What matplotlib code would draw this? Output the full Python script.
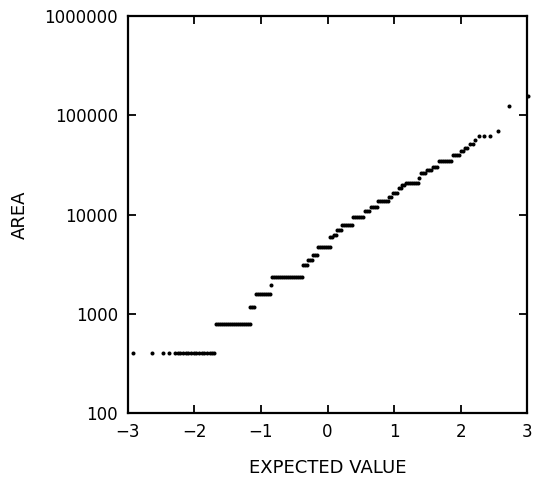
import matplotlib
matplotlib.use('Agg')
import matplotlib.pyplot as plt
from matplotlib.ticker import FixedLocator, FixedFormatter

# normal probability plot: each area level with the expected values at which it shows
levels = [400, 790, 1180, 1580, 1950, 2350, 3100, 3500, 3900, 4700,
          5900, 6300, 7000, 7900, 9400, 11000, 12000, 13800, 14900, 16400,
          18400, 19800, 21000, 23500, 26000, 28500, 30500, 35000, 39800, 44000,
          47000, 52000, 57000, 62000, 70000, 125000, 156000]

level_x = [
    [-2.93, -2.64, -2.47, -2.38, -2.29, -2.25, -2.21, -2.17, -2.13, -2.09,
     -2.05, -2.01, -1.97, -1.93, -1.89, -1.85, -1.81, -1.77, -1.73, -1.70],
    [-1.68, -1.65, -1.62, -1.59, -1.56, -1.53, -1.50, -1.47, -1.44, -1.41,
     -1.38, -1.35, -1.32, -1.29, -1.26, -1.23, -1.20, -1.17],
    [-1.16, -1.13, -1.10],
    [-1.08, -1.05, -1.02, -0.99, -0.96, -0.93, -0.90, -0.87],
    [-0.85],
    [-0.83, -0.80, -0.77, -0.74, -0.71, -0.68, -0.65, -0.62, -0.59, -0.56,
     -0.53, -0.50, -0.47, -0.44, -0.41, -0.38],
    [-0.37, -0.34, -0.31],
    [-0.30, -0.27, -0.24],
    [-0.22, -0.19, -0.16],
    [-0.15, -0.12, -0.09, -0.06, -0.03, 0.00, 0.03],
    [0.04, 0.07],
    [0.09, 0.12],
    [0.14, 0.17, 0.20],
    [0.22, 0.25, 0.28, 0.31, 0.34, 0.37],
    [0.39, 0.42, 0.45, 0.48, 0.51, 0.54],
    [0.56, 0.59, 0.62],
    [0.65, 0.68, 0.71, 0.74],
    [0.76, 0.79, 0.82, 0.85, 0.88, 0.91],
    [0.93, 0.96],
    [0.99, 1.02, 1.05],
    [1.07, 1.10],
    [1.12, 1.15],
    [1.18, 1.21, 1.24, 1.27, 1.30, 1.33, 1.36],
    [1.38],
    [1.40, 1.43, 1.46],
    [1.49, 1.52, 1.55],
    [1.58, 1.61, 1.64],
    [1.67, 1.70, 1.73, 1.76, 1.79, 1.82, 1.85],
    [1.88, 1.91, 1.94, 1.97],
    [2.00, 2.03],
    [2.06, 2.09],
    [2.14, 2.18],
    [2.22],
    [2.28, 2.35, 2.44],
    [2.56],
    [2.72],
    [3.02],
]

x_ticks = [-3, -2, -1, 0, 1, 2, 3]
y_ticks = [100, 1000, 10000, 100000, 1000000]
y_tick_labels = ['100', '1000', '10000', '100000', '1000000']

plt.rcParams['font.family'] = ['DejaVu Sans']

fig = plt.figure(figsize=(5.33, 4.78), dpi=100)
ax = fig.add_axes([0.240, 0.136, 0.749, 0.830])

xs, ys = [], []
for a, xl in zip(levels, level_x):
    for v in xl:
        xs.append(v)
        ys.append(a)

ax.plot(xs, ys, 'o', color='black', markersize=2.9, markeredgewidth=0,
        clip_on=False)

ax.set_yscale('log')
ax.set_xlim(-3, 3)
ax.set_ylim(100, 1000000)
ax.xaxis.set_major_locator(FixedLocator(x_ticks))
ax.yaxis.set_major_locator(FixedLocator(y_ticks))
ax.yaxis.set_major_formatter(FixedFormatter(y_tick_labels))
ax.yaxis.set_minor_locator(FixedLocator([]))

ax.tick_params(direction='in', length=6, width=1.3, labelsize=12,
               top=True, right=True, pad=7)
for s in ax.spines.values():
    s.set_linewidth(1.6)

ax.set_xlabel('EXPECTED VALUE', fontsize=13, labelpad=13)
ax.set_ylabel('AREA', fontsize=13, labelpad=11)

fig.savefig('out.png', dpi=100)
